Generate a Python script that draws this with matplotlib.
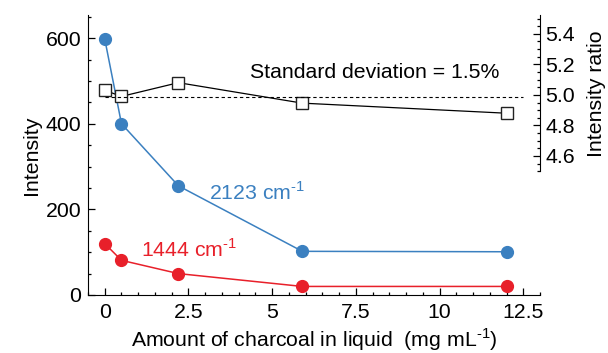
import numpy as np
import matplotlib
matplotlib.use("Agg")
import matplotlib.pyplot as plt
from matplotlib.ticker import MultipleLocator

plt.rcParams['font.family'] = ['Liberation Sans', 'DejaVu Sans']
plt.rcParams['font.size'] = 15.3
plt.rcParams['mathtext.fontset'] = 'custom'
plt.rcParams['mathtext.rm'] = 'Liberation Sans'

# Дані: кількість вугілля та інтенсивності смуг
charcoal = [0, 0.5, 2.2, 5.9, 12]
band_2123 = [598, 400, 255, 102, 101]
band_1444 = [120, 81, 50, 20, 20]
ratio = [5.03, 4.99, 5.08, 4.946, 4.88]

blue = '#3b80c0'
red = '#e8202a'

fig = plt.figure(figsize=(6.08, 3.53), dpi=100)
ax = fig.add_axes([88 / 608, 58 / 353, (540 - 88) / 608, (295 - 15) / 353])
ax2 = ax.twinx()

ax.plot(charcoal, band_2123, '-o', color=blue, lw=1.1, ms=8.5, zorder=3)
ax.plot(charcoal, band_1444, '-o', color=red, lw=1.1, ms=8.5, zorder=3)

# Відношення інтенсивностей та середнє значення
mean_ratio = np.mean(ratio)
ax2.plot(charcoal, ratio, '-s', color='black', mfc='white', mec='#222222',
         lw=0.9, ms=9, mew=1.0)
ax2.plot([0, 12.5], [mean_ratio, mean_ratio], '--', color='black', lw=0.8,
         dashes=(3, 2.5))

ax.set_xlim(-0.5, 13)
ax.set_ylim(0, 654)
ax2.set_ylim(3.69, 5.523)

for a in (ax, ax2):
    a.spines['top'].set_visible(False)
ax.spines['right'].set_visible(False)
ax2.spines['left'].set_visible(False)
ax2.spines['bottom'].set_visible(False)
ax2.spines['right'].set_bounds(4.5, 5.52)

ax.xaxis.set_major_locator(MultipleLocator(2.5))
ax.xaxis.set_minor_locator(MultipleLocator(0.5))
ax.yaxis.set_major_locator(MultipleLocator(200))
ax.yaxis.set_minor_locator(MultipleLocator(50))
ax2.set_yticks([4.6, 4.8, 5.0, 5.2, 5.4])
ax2.set_yticks(np.arange(4.5, 5.51, 0.05), minor=True)
ax2.set_yticklabels(['4.6', '4.8', '5.0', '5.2', '5.4'])
ax.set_xticks([0, 2.5, 5, 7.5, 10, 12.5])
ax.set_xticklabels(['0', '2.5', '5', '7.5', '10', '12.5'])

for a in (ax, ax2):
    a.tick_params(which='major', direction='in', length=5, width=0.9)
    a.tick_params(which='minor', direction='in', length=2.5, width=0.9)
ax.tick_params(axis='y', pad=5)
ax.tick_params(axis='x', pad=6)
ax2.tick_params(axis='y', pad=4)

ax.set_xlabel(r'Amount of charcoal in liquid  (mg mL$^{\text{-1}}$)', labelpad=3)
ax.set_ylabel('Intensity', labelpad=3)
ax2.set_ylabel('Intensity ratio', labelpad=4)
ax2.yaxis.set_label_coords(1.104, 0.72)

ax2.text(4.35, 5.085, 'Standard deviation = 1.5%', ha='left', va='bottom')
ax.text(3.1, 240, r'2123 cm$^{\text{-1}}$', color=blue, ha='left', va='center')
ax.text(1.08, 107, r'1444 cm$^{\text{-1}}$', color=red, ha='left', va='center')

fig.savefig('out.png', dpi=100)
